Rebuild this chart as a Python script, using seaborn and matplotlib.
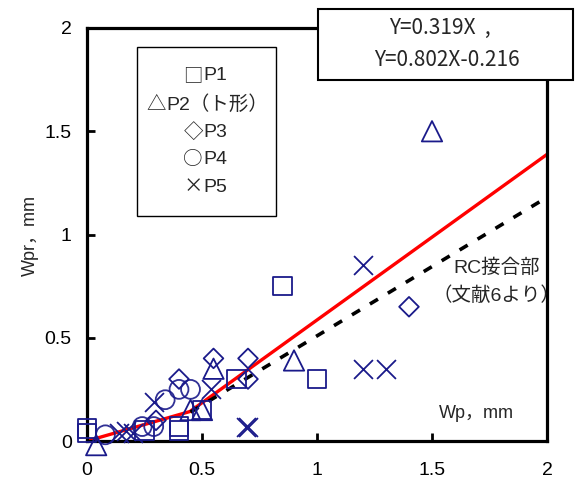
import matplotlib
matplotlib.use("Agg")
import matplotlib.pyplot as plt
import matplotlib.patches as mpatches
import numpy as np
import pandas as pd
import seaborn as sns

# ---- measured crack widths (Wp: x, Wpr: y), mm ----
p1_x = [0.00, 0.00, 0.25, 0.40, 0.40, 0.50, 0.65, 0.85, 1.00]
p1_y = [0.06, 0.04, 0.05, 0.07, 0.05, 0.15, 0.30, 0.75, 0.30]

p2_x = [0.04, 0.45, 0.50, 0.55, 0.90, 1.50]
p2_y = [-0.02, 0.15, 0.15, 0.35, 0.39, 1.50]

p3_x = [0.30, 0.40, 0.55, 0.70, 0.70, 1.40]
p3_y = [0.10, 0.30, 0.40, 0.30, 0.40, 0.65]

p4_x = [0.08, 0.24, 0.29, 0.34, 0.40, 0.45]
p4_y = [0.03, 0.07, 0.07, 0.20, 0.25, 0.25]

p5_x = [0.14, 0.17, 0.20, 0.29, 0.54, 0.69, 0.70, 1.20, 1.20, 1.30]
p5_y = [0.04, 0.05, 0.04, 0.19, 0.25, 0.07, 0.07, 0.85, 0.35, 0.35]

# bilinear regression: Y=0.319X , Y=0.802X-0.216
slope_1 = 0.319
slope_2 = 0.802
icept_2 = -0.216

# RC joint reference line (literature 6)
rc_x = [0.45, 2.0]
rc_y = [0.14, 1.18]

series_names = ["P1", "P2", "P3", "P4", "P5"]
key_symbols = ["□", "△", "◇", "○", "×"]
key_labels = ["P1", "P2（ト形）", "P3", "P4", "P5"]
ticks = [0, 0.5, 1, 1.5, 2]
tick_labels = ["0", "0.5", "1", "1.5", "2"]

sns.set_theme(style="white")
plt.rcParams["font.family"] = ["Liberation Sans", "Noto Sans CJK JP", "DejaVu Sans"]
cjk_font = ["Noto Sans CJK JP", "DejaVu Sans"]

W, H = 579, 483
fig = plt.figure(figsize=(W / 100, H / 100), dpi=100)
ax = fig.add_axes([87 / W, 1 - 441 / H, 460 / W, 413 / H])

navy = "#1a1a8a"

# regression line
x_break = -icept_2 / (slope_2 - slope_1)
reg = pd.DataFrame({
    "x": [0.0, x_break, 2.0],
    "y": [0.0, slope_1 * x_break, slope_2 * 2.0 + icept_2],
})
sns.lineplot(data=reg, x="x", y="y", ax=ax, color="#ff0000", lw=2.4, zorder=2)

rc = pd.DataFrame({"x": rc_x, "y": rc_y})
sns.lineplot(data=rc, x="x", y="y", ax=ax, color="black", lw=2.6,
             linestyle=(0, (2.6, 3.2)), zorder=2)

data = {
    "P1": (p1_x, p1_y, "s", 175),
    "P2": (p2_x, p2_y, "^", 215),
    "P3": (p3_x, p3_y, "D", 100),
    "P4": (p4_x, p4_y, "o", 185),
    "P5": (p5_x, p5_y, "x", 185),
}
for name in series_names:
    xs, ys, mk, sz = data[name]
    df = pd.DataFrame({"x": xs, "y": ys})
    if mk == "x":
        sns.scatterplot(data=df, x="x", y="y", ax=ax, marker=mk, s=sz,
                        color=navy, linewidth=1.3, clip_on=False, zorder=3)
    else:
        sns.scatterplot(data=df, x="x", y="y", ax=ax, marker=mk, s=sz,
                        facecolors="none", edgecolor=navy, linewidth=1.3,
                        alpha=0.9 if mk == "o" else 1.0,
                        clip_on=False, zorder=3)

ax.set_xlim(0, 2)
ax.set_ylim(0, 2)
ax.set_xticks(ticks)
ax.set_xticklabels(tick_labels)
ax.set_yticks(ticks)
ax.set_yticklabels(tick_labels)
ax.set_xlabel("")
ax.set_ylabel("")
ax.tick_params(axis="x", direction="in", length=6, width=2, pad=15,
               labelsize=14, colors="black", top=False, bottom=True)
ax.tick_params(axis="y", direction="in", length=6, width=2, pad=11,
               labelsize=14, colors="black", left=True, right=False)
for sp in ax.spines.values():
    sp.set_visible(True)
    sp.set_color("black")
    sp.set_linewidth(2.3)
ax.set_facecolor("white")

# axis titles
fig.text(30 / W, 1 - 235 / H, "Wpr，mm", rotation=90, ha="center",
         va="center", fontsize=13)
fig.text(476 / W, 1 - 414 / H, "Wp，mm", ha="center", va="center",
         fontsize=13)

# reference line note
fig.text(497 / W, 1 - 268 / H, "RC接合部", ha="center", va="center",
         fontsize=14)
fig.text(496 / W, 1 - 296 / H, "（文献6より）", ha="center", va="center",
         fontsize=14)

# marker key box
fig.patches.append(mpatches.Rectangle((137 / W, 1 - 216 / H), 139 / W,
                                      169 / H, transform=fig.transFigure,
                                      facecolor="white", edgecolor="black",
                                      lw=1.0, zorder=5))
key_y = [76, 104, 132, 160, 187]
key_x = [203, 166, 203, 203, 203]
for sym, lab, xx, yy in zip(key_symbols, key_labels, key_x, key_y):
    fig.text(xx / W, 1 - yy / H, sym, ha="right", va="center",
             fontsize=14, family=cjk_font, zorder=6)
    fig.text(xx / W, 1 - yy / H, lab, ha="left", va="center",
             fontsize=14, zorder=6)

# equation box
fig.patches.append(mpatches.Rectangle((318 / W, 1 - 80 / H), 255 / W,
                                      71 / H, transform=fig.transFigure,
                                      facecolor="white", edgecolor="black",
                                      lw=1.5, zorder=5))
fig.text(440 / W, 1 - 28 / H, "Y=0.319X  ,", ha="center", va="center",
         fontsize=15, family=cjk_font, zorder=6)
fig.text(447 / W, 1 - 60 / H, "Y=0.802X-0.216", ha="center", va="center",
         fontsize=15, family=cjk_font, zorder=6)

fig.savefig("out.png", dpi=100)
